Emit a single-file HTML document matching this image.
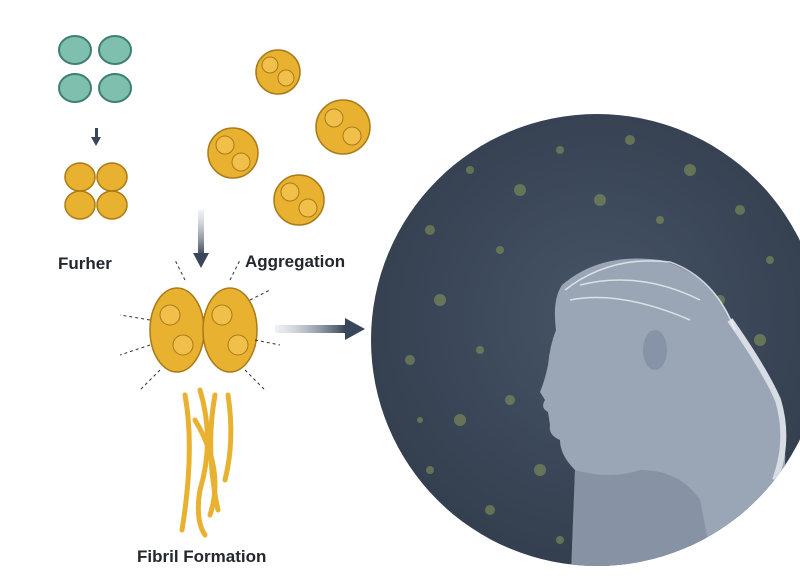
<!DOCTYPE html>
<html><head><meta charset="utf-8"><style>
html,body{margin:0;padding:0;background:#fff;}
body{width:800px;height:584px;overflow:hidden;position:relative;font-family:"Liberation Sans",sans-serif;}
.t{position:absolute;font-size:17px;color:#23272e;font-weight:bold;}
</style></head><body>
<svg width="800" height="584" style="position:absolute;left:0;top:0">
<defs>
<radialGradient id="bg" cx="50%" cy="45%" r="60%"><stop offset="0" stop-color="#465466"/><stop offset="1" stop-color="#323d4d"/></radialGradient>
<linearGradient id="ar" x1="0" x2="1"><stop offset="0" stop-color="#c9d0da" stop-opacity="0.3"/><stop offset="1" stop-color="#3a475a"/></linearGradient>
<linearGradient id="av" y1="0" y2="1" x1="0" x2="0"><stop offset="0" stop-color="#c9d0da" stop-opacity="0.3"/><stop offset="1" stop-color="#3a475a"/></linearGradient>
<clipPath id="cc"><circle cx="597" cy="340" r="226"/></clipPath>
</defs>
<circle cx="597" cy="340" r="226" fill="url(#bg)"/>
<g clip-path="url(#cc)">
<g fill="#8a9a5a" opacity="0.55">
<circle cx="430" cy="230" r="5"/><circle cx="470" cy="170" r="4"/><circle cx="520" cy="190" r="6"/><circle cx="560" cy="150" r="4"/><circle cx="630" cy="140" r="5"/><circle cx="690" cy="170" r="6"/><circle cx="740" cy="210" r="5"/><circle cx="770" cy="260" r="4"/><circle cx="440" cy="300" r="6"/><circle cx="410" cy="360" r="5"/><circle cx="460" cy="420" r="6"/><circle cx="430" cy="470" r="4"/><circle cx="490" cy="510" r="5"/><circle cx="540" cy="470" r="6"/><circle cx="500" cy="250" r="4"/><circle cx="600" cy="200" r="6"/><circle cx="660" cy="220" r="4"/><circle cx="720" cy="300" r="5"/><circle cx="760" cy="340" r="6"/><circle cx="480" cy="350" r="4"/><circle cx="510" cy="400" r="5"/><circle cx="560" cy="540" r="4"/><circle cx="760" cy="460" r="5"/><circle cx="420" cy="420" r="3"/>
</g>
<path d="M570 600 L575 470 Q560 455 560 440 Q548 435 550 425 L548 412 Q540 408 545 400 L540 392 Q545 380 548 365 Q550 345 556 330 Q552 300 562 285 Q600 252 660 260 Q715 275 735 330 Q765 365 778 405 Q790 450 782 490 L790 600 Z" fill="#9aa5b6"/>
<path d="M575 470 Q610 480 640 470 Q680 470 700 500 L720 600 L570 600 Z" fill="#7f8b9e" opacity="0.7"/>
<path d="M730 320 Q765 370 778 400 Q790 440 775 480" stroke="#d8dde5" stroke-width="6" fill="none"/>
<ellipse cx="655" cy="350" rx="12" ry="20" fill="#8793a6"/>
<g stroke="#eef1f5" stroke-width="1.5" fill="none" opacity="0.8"><path d="M565 290 Q610 255 670 262 Q715 278 735 330"/><path d="M580 285 Q640 270 700 300"/><path d="M570 300 Q620 290 690 320"/></g>
</g>
<rect x="275" y="325" width="70" height="8" fill="url(#ar)"/>
<polygon points="345,318 365,329 345,340" fill="#3a475a"/>
<rect x="198" y="210" width="6" height="45" fill="url(#av)"/>
<polygon points="193,253 201,268 209,253" fill="#3a475a"/>
<rect x="95" y="128" width="3" height="10" fill="#3a475a"/>
<polygon points="91,137 96,146 101,137" fill="#3a475a"/>
<g fill="#7fbfae" stroke="#3e7f74" stroke-width="2">
<ellipse cx="75" cy="50" rx="16" ry="14"/><ellipse cx="115" cy="50" rx="16" ry="14"/><ellipse cx="75" cy="88" rx="16" ry="14"/><ellipse cx="115" cy="88" rx="16" ry="14"/>
</g>
<g fill="#e9b130" stroke="#a87a18" stroke-width="1.5">
<ellipse cx="80" cy="177" rx="15" ry="14"/><ellipse cx="112" cy="177" rx="15" ry="14"/><ellipse cx="80" cy="205" rx="15" ry="14"/><ellipse cx="112" cy="205" rx="15" ry="14"/>
<circle cx="278" cy="72" r="22"/><circle cx="343" cy="127" r="27"/><circle cx="233" cy="153" r="25"/><circle cx="299" cy="200" r="25"/>
<ellipse cx="177" cy="330" rx="27" ry="42"/><ellipse cx="230" cy="330" rx="27" ry="42"/>
</g>
<g fill="#f0c04a" stroke="#a87a18" stroke-width="1">
<circle cx="270" cy="65" r="8"/><circle cx="286" cy="78" r="8"/><circle cx="334" cy="118" r="9"/><circle cx="352" cy="136" r="9"/><circle cx="225" cy="145" r="9"/><circle cx="241" cy="162" r="9"/><circle cx="290" cy="192" r="9"/><circle cx="308" cy="208" r="9"/><circle cx="170" cy="315" r="10"/><circle cx="183" cy="345" r="10"/><circle cx="222" cy="315" r="10"/><circle cx="238" cy="345" r="10"/>
</g>
<g stroke="#e9b130" stroke-width="5" fill="none" stroke-linecap="round">
<path d="M185 395 Q195 450 182 530"/><path d="M200 390 Q215 440 200 490 Q195 520 205 535"/><path d="M215 395 Q205 450 218 510"/><path d="M228 395 Q235 440 225 480"/><path d="M195 420 Q225 470 210 515"/>
</g>
<g stroke="#333" stroke-width="1" stroke-dasharray="3,3">
<line x1="150" y1="320" x2="120" y2="315"/><line x1="150" y1="345" x2="120" y2="355"/><line x1="160" y1="370" x2="140" y2="390"/><line x1="250" y1="300" x2="270" y2="290"/><line x1="255" y1="340" x2="280" y2="345"/><line x1="245" y1="370" x2="265" y2="390"/><line x1="185" y1="280" x2="175" y2="260"/><line x1="230" y1="280" x2="240" y2="260"/>
</g>
</svg>
<div class="t" style="left:58px;top:254px">Furher</div>
<div class="t" style="left:245px;top:252px">Aggregation</div>
<div class="t" style="left:137px;top:547px">Fibril Formation</div>
</body></html>
